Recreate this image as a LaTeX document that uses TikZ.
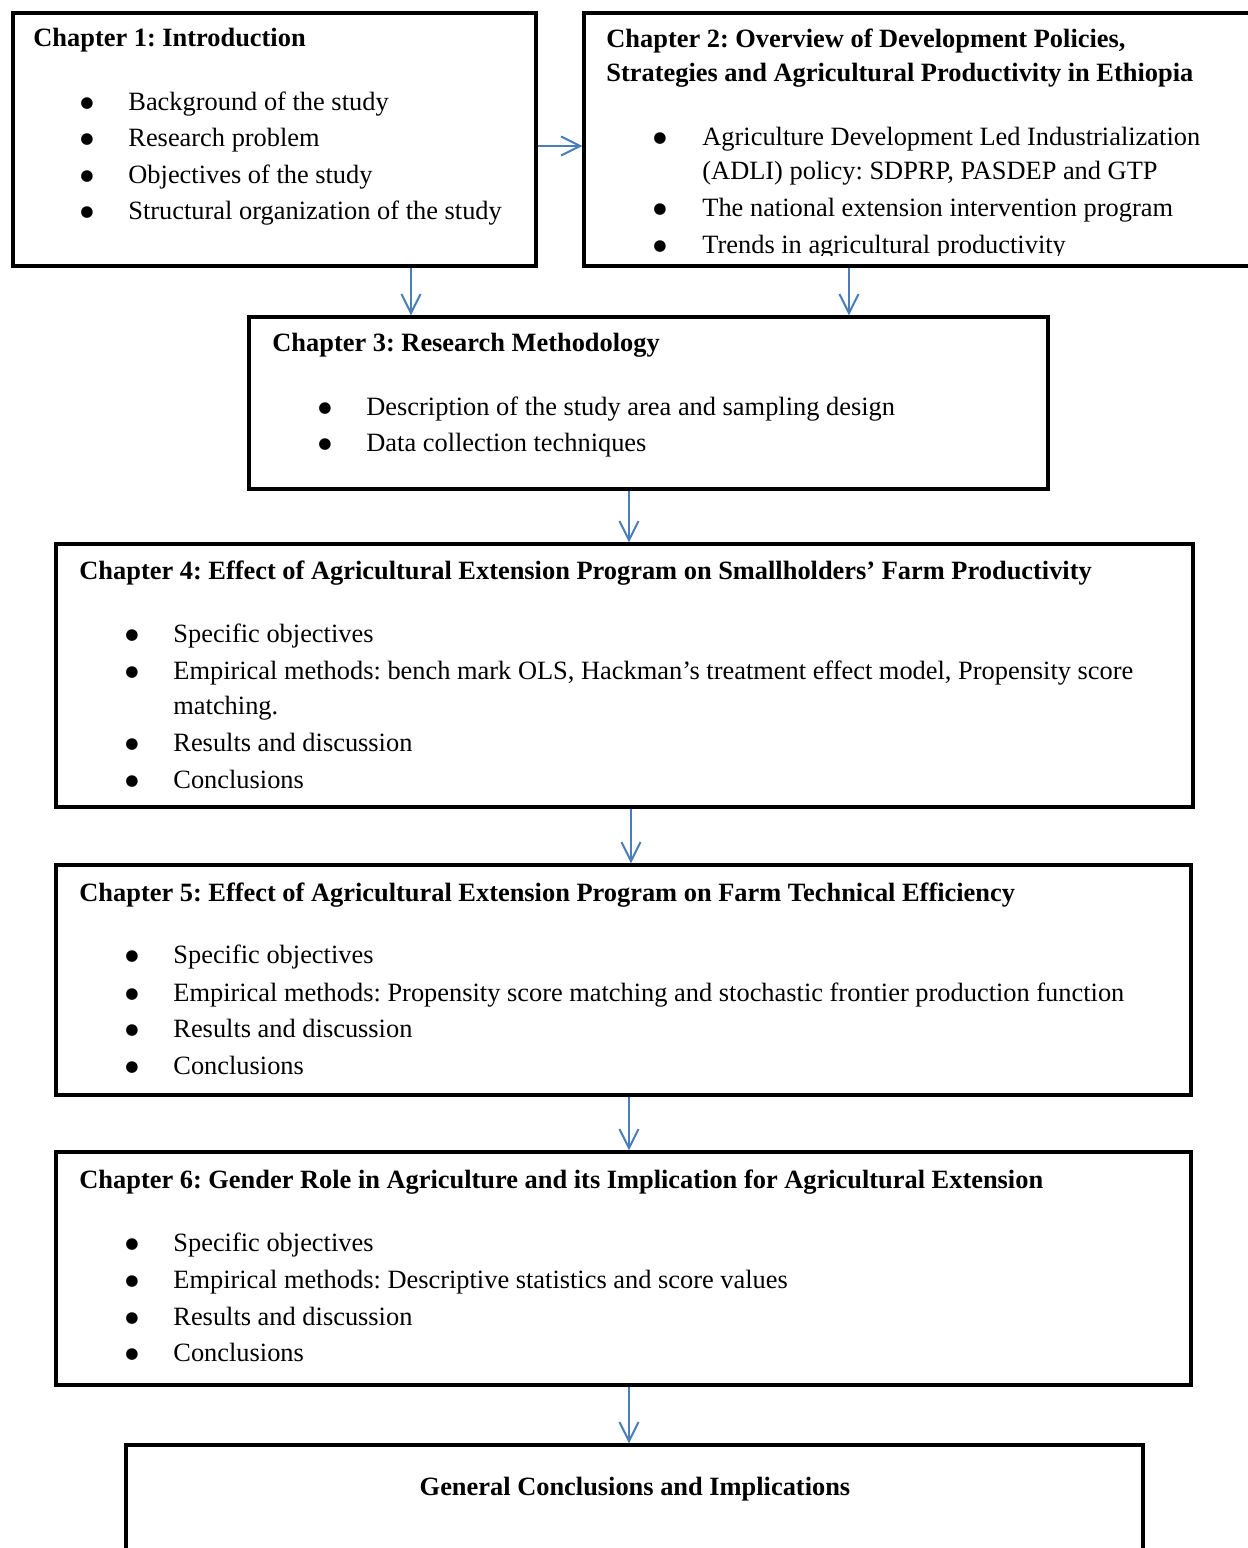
\documentclass[tikz,border=0pt]{standalone}
\usepackage{fontspec}
\setmainfont{Liberation Serif}
\newfontfamily\bulfont{DejaVu Sans}
\usetikzlibrary{arrows.meta}
\definecolor{arrowblue}{RGB}{74,126,187}
\frenchspacing

\begin{document}
\begin{tikzpicture}[x=0.5pt, y=-0.5pt,
    every node/.style={font=\fontsize{13.2}{18}\selectfont, inner sep=0pt},
    chapbox/.style={draw, line width=1.7pt},
    head/.style={anchor=base west, font=\fontsize{13.2}{18}\selectfont\bfseries},
    item/.style={anchor=base west},
    bul/.style={anchor=base, font=\bulfont\fontsize{7.6}{9}\selectfont, yshift=1.3pt},
    arr/.style={draw=arrowblue, line width=1pt, -{Straight Barb[length=9.5pt, width=9.5pt]}}]
    \useasboundingbox (0,0) rectangle (1248,1548);

    % boxes
    \node[chapbox, minimum width=261.5pt, minimum height=126.5pt] (ch1) at (274.5,139.5) {};
    \node[chapbox, minimum width=340.5pt, minimum height=126.5pt] (ch2) at (924.5,139.5) {};
    \node[chapbox, minimum width=399.5pt, minimum height=86pt] (ch3) at (648.5,403) {};
    \node[chapbox, minimum width=568.5pt, minimum height=131.5pt] (ch4) at (624.5,675.5) {};
    \node[chapbox, minimum width=567.5pt, minimum height=115pt] (ch5) at (623.5,980) {};
    \node[chapbox, minimum width=567.5pt, minimum height=116.5pt] (ch6) at (623.5,1268.5) {};
    \node[chapbox, minimum width=508.5pt, minimum height=77.5pt] (concl) at (634.5,1522.5) {};

    % chapter 1
    \node[head] (h1) at (33,46) {Chapter 1: Introduction};
    \foreach \y/\t [count=\k] in {110/Background of the study, 146/Research problem,
        183/Objectives of the study, 219/Structural organization of the study} {
        \node[bul] (d1\k) at (87,\y) {●};
        \node[item] (t1\k) at (128,\y) {\t};
    }

    % chapter 2 (last line cut by the box edge)
    \begin{scope}
        \clip (586,15) rectangle (1248,255);
        \node[head] (h2a) at (606,47) {Chapter 2: Overview of Development Policies,};
        \node[head] (h2b) at (606,81) {Strategies and Agricultural Productivity in Ethiopia};
        \foreach \y/\t [count=\k] in {145/Agriculture Development Led Industrialization,
            216/The national extension intervention program, 253/Trends in agricultural productivity} {
            \node[bul] (d2\k) at (660,\y) {●};
            \node[item] (t2\k) at (702,\y) {\t};
        }
        \node[item] (t2w) at (702,179) {(ADLI) policy: SDPRP, PASDEP and GTP};
    \end{scope}

    % chapter 3
    \node[head] (h3) at (272,351) {Chapter 3: Research Methodology};
    \foreach \y/\t [count=\k] in {415/Description of the study area and sampling design,
        451/Data collection techniques} {
        \node[bul] (d3\k) at (325,\y) {●};
        \node[item] (t3\k) at (366,\y) {\t};
    }

    % chapter 4
    \node[head] (h4) at (79,579) {Chapter 4: Effect of Agricultural Extension Program on Smallholders’ Farm Productivity};
    \foreach \y/\t [count=\k] in {642/Specific objectives,
        679/{Empirical methods: bench mark OLS, Hackman’s treatment effect model, Propensity score},
        751/Results and discussion, 788/Conclusions} {
        \node[bul] (d4\k) at (132,\y) {●};
        \node[item] (t4\k) at (173,\y) {\t};
    }
    \node[item] (t4w) at (173,714) {matching.};

    % chapter 5
    \node[head] (h5) at (79,901) {Chapter 5: Effect of Agricultural Extension Program on Farm Technical Efficiency};
    \foreach \y/\t [count=\k] in {963/Specific objectives,
        1001/Empirical methods: Propensity score matching and stochastic frontier production function,
        1037/Results and discussion, 1074/Conclusions} {
        \node[bul] (d5\k) at (132,\y) {●};
        \node[item] (t5\k) at (173,\y) {\t};
    }

    % chapter 6
    \node[head] (h6) at (79,1188) {Chapter 6: Gender Role in Agriculture and its Implication for Agricultural Extension};
    \foreach \y/\t [count=\k] in {1251/Specific objectives,
        1288/Empirical methods: Descriptive statistics and score values,
        1325/Results and discussion, 1361/Conclusions} {
        \node[bul] (d6\k) at (132,\y) {●};
        \node[item] (t6\k) at (173,\y) {\t};
    }

    % general conclusions
    \node[head, anchor=base] (h7) at (635,1495) {General Conclusions and Implications};

    % arrows
    \coordinate (lane12) at (560,146);
    \coordinate (lane13) at (411,290);
    \coordinate (lane23) at (849,290);
    \coordinate (lane34) at (629,515);
    \coordinate (lane45) at (631,835);
    \coordinate (lane56) at (629,1123);
    \coordinate (lane67) at (629,1415);
    \draw[arr] (ch1.east |- lane12) -- (ch2.west |- lane12);
    \draw[arr] (ch1.south -| lane13) -- (ch3.north -| lane13);
    \draw[arr] (ch2.south -| lane23) -- (ch3.north -| lane23);
    \draw[arr] (ch3.south -| lane34) -- (ch4.north -| lane34);
    \draw[arr] (ch4.south -| lane45) -- (ch5.north -| lane45);
    \draw[arr] (ch5.south -| lane56) -- (ch6.north -| lane56);
    \draw[arr] (ch6.south -| lane67) -- (concl.north -| lane67);
\end{tikzpicture}
\end{document}
